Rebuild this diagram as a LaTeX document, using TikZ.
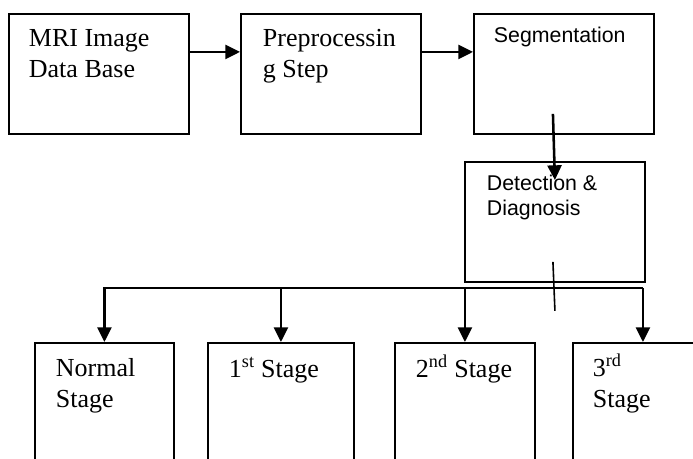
\documentclass[tikz,border=0pt]{standalone}
\usepackage{fontspec}
\setmainfont{Liberation Serif}
\setsansfont{Liberation Sans}
\usetikzlibrary{arrows.meta}

\begin{document}
\begin{tikzpicture}[x=0.75pt,y=-0.75pt,>={Triangle[length=11pt,width=10.5pt]},line width=1.4pt]
    \tikzstyle{box}=[draw, rectangle, anchor=north west, inner sep=0pt, minimum width=135pt, minimum height=90pt]
    \tikzstyle{stage}=[style=box, minimum width=105pt, minimum height=96pt]
    \tikzstyle{txt}=[anchor=base west, inner sep=0pt, align=left, font=\fontsize{19.5}{23.25}\selectfont]
    \tikzstyle{stxt}=[style=txt, font=\sffamily\fontsize{16}{18.75}\selectfont]
    \tikzstyle{arr}=[->, line width=1.9pt]

    \useasboundingbox (0,0) rectangle (693,459);
    \clip (0,0) rectangle (693,459);

    % top row (text nodes sit on the baseline of their last line)
    \node[box] (mri)  at (8,13)   {};
    \node[box] (prep) at (240,13) {};
    \node[box] (seg)  at (473,13) {};
    \node[box] (det)  at (464,161) {};

    \node[txt]  (mri-t)  at (28,78)   {MRI Image\\Data Base};
    \node[txt]  (prep-t) at (262,78)  {Preprocessin\\g Step};
    \node[stxt] (seg-t)  at (493,43)  {Segmentation};
    \node[stxt] (det-t)  at (486,216) {Detection \&\\Diagnosis};

    % stages
    \node[stage, minimum width=104.25pt] (normal) at (34,342)  {};
    \node[stage, minimum width=109.5pt]  (first)  at (207,342) {};
    \node[stage] (second) at (394,342) {};
    \node[stage] (third)  at (572,342) {};

    \node[txt] (normal-t) at (55,408)  {Normal\\Stage};
    \node[txt] (first-t)  at (228,378) {1\textsuperscript{st} Stage};
    \node[txt] (second-t) at (415,378) {2\textsuperscript{nd} Stage};
    \node[txt] (third-t)  at (592,408) {3\textsuperscript{rd}\\Stage};

    \coordinate (bus) at (0,288);

    \draw[arr] ([yshift=16.5pt]mri.east) -- ([yshift=16.5pt]prep.west);
    \draw[arr] ([yshift=16.5pt]prep.east) -- ([yshift=16.5pt]seg.west);
    \draw[arr] ([xshift=-8.25pt,yshift=15.75pt]seg.south) -- ([yshift=-14.25pt]det.north);
    \draw[line width=1.2pt] ([xshift=-1.5pt,yshift=15.75pt]det.south) -- ([yshift=-21pt]det.south);

    \draw[arr] (third.north |- bus) -- (normal.north |- bus) -- (normal.north);
    \draw[arr] (first.north |- bus) -- (first.north);
    \draw[arr] (second.north |- bus) -- (second.north);
    \draw[arr] (third.north |- bus) -- (third.north);
\end{tikzpicture}
\end{document}
